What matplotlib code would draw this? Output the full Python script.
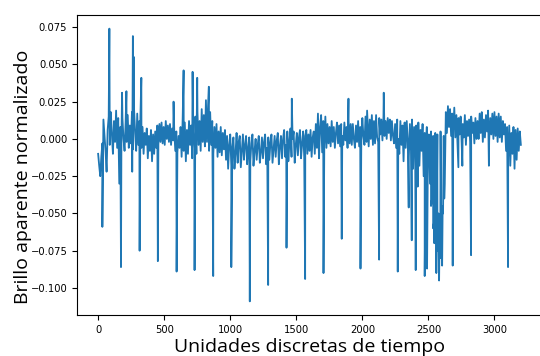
import numpy as np
import matplotlib
matplotlib.use("Agg")
import matplotlib.pyplot as plt

# base light curve, one value every 8 time units (t = 0 .. 3200), one row = 160 units
paso = 8
brillo_base = [
    -0.010, -0.018, -0.025, -0.012, -0.003, 0.013, 0.002, -0.008, -0.022, 0.006,
    0.015, -0.004, 0.018, 0.003, -0.010, 0.012, -0.002, 0.019, -0.006, 0.014,
    -0.030, 0.008, -0.005, 0.014, 0.000, -0.008, 0.011, -0.002, 0.016, -0.006,
    0.009, -0.003, 0.018, -0.007, 0.020, 0.004, -0.008, 0.017, -0.004, 0.012,
    0.015, -0.006, 0.008, -0.010, 0.004, -0.004, 0.007, -0.013, 0.002, -0.008,
    0.006, -0.015, 0.003, -0.010, 0.005, -0.006, 0.009, -0.004, 0.010, -0.002,
    0.011, -0.003, 0.008, -0.004, 0.012, 0.000, 0.009, -0.002, 0.010, -0.004,
    0.007, -0.001, 0.006, -0.008, 0.005, -0.009, 0.002, -0.006, 0.008, -0.012,
    0.014, -0.008, 0.011, -0.015, 0.006, -0.010, 0.012, -0.004, 0.009, -0.013,
    0.005, -0.006, 0.015, -0.010, 0.018, -0.004, 0.012, -0.008, 0.020, -0.002,
    0.016, -0.005, 0.026, -0.002, 0.022, -0.008, 0.018, -0.004, 0.012, -0.010,
    0.008, -0.006, 0.010, -0.012, 0.005, -0.009, 0.008, -0.011, 0.004, -0.007,
    0.006, -0.014, 0.002, -0.020, -0.004, 0.003, -0.018, -0.006, 0.001, -0.020,
    -0.010, 0.004, -0.016, -0.002, 0.002, -0.019, -0.008, 0.003, -0.014, -0.004,
    0.002, -0.017, -0.006, 0.001, -0.015, -0.003, 0.003, -0.018, -0.008, 0.000,
    -0.014, -0.004, 0.002, -0.016, -0.009, 0.001, -0.013, -0.002, 0.003, -0.017,
    -0.006, 0.001, -0.014, -0.003, 0.003, -0.016, -0.007, 0.002, -0.012, -0.001,
    0.004, -0.017, -0.005, 0.002, -0.013, 0.000, 0.006, -0.012, -0.004, 0.005,
    -0.015, -0.002, 0.007, -0.012, 0.000, 0.005, -0.016, -0.004, 0.004, -0.011,
    0.001, 0.006, -0.013, -0.003, 0.005, -0.012, 0.002, 0.006, -0.010, 0.003,
    -0.008, 0.006, -0.012, 0.001, 0.005, -0.010, 0.010, -0.006, 0.017, -0.013,
    0.008, 0.016, -0.009, 0.012, -0.004, 0.015, -0.006, 0.010, -0.003, 0.008,
    -0.005, 0.012, -0.002, 0.008, -0.006, 0.004, 0.011, -0.003, 0.009, -0.005,
    0.010, 0.002, -0.004, 0.011, -0.001, 0.008, -0.006, 0.012, -0.003, 0.010,
    -0.004, 0.010, 0.000, -0.006, 0.009, -0.002, 0.012, -0.005, 0.008, -0.003,
    0.014, 0.002, -0.004, 0.015, -0.002, 0.011, -0.005, 0.013, 0.000, 0.016,
    -0.004, 0.012, -0.003, 0.016, 0.001, -0.002, 0.014, 0.003, 0.013, -0.001,
    0.015, 0.002, 0.012, 0.000, 0.014, 0.004, 0.013, -0.001, 0.012, 0.002,
    -0.003, 0.010, -0.006, 0.013, 0.000, -0.010, 0.012, -0.004, 0.009, -0.015,
    0.011, -0.006, 0.012, -0.002, -0.012, 0.010, -0.008, 0.013, -0.020, 0.008,
    -0.012, 0.009, -0.005, 0.011, -0.018, 0.006, -0.008, 0.010, -0.025, 0.004,
    -0.010, 0.008, -0.014, 0.003, -0.030, 0.005, -0.040, 0.002, -0.055, 0.004,
    -0.065, 0.003, -0.050, -0.070, 0.005, -0.060, -0.045, 0.002, -0.030, 0.018,
    0.004, 0.022, 0.008, 0.020, 0.002, 0.017, 0.006, 0.021, 0.001, 0.016,
    -0.002, 0.014, 0.003, 0.015, -0.003, 0.010, 0.001, 0.016, -0.004, 0.012,
    0.002, 0.013, -0.002, 0.015, 0.004, 0.011, -0.003, 0.014, 0.000, 0.012,
    0.000, 0.017, 0.004, 0.018, -0.002, 0.013, 0.001, 0.016, 0.005, 0.019,
    -0.001, 0.014, 0.003, 0.017, 0.000, 0.018, 0.002, 0.015, -0.002, 0.017,
    0.001, 0.015, -0.002, 0.012, 0.003, 0.010, -0.008, 0.008, -0.012, 0.009,
    -0.018, 0.004, -0.010, 0.008, -0.020, 0.006, -0.014, 0.007, -0.008, 0.005,
    -0.004,
]

# isolated spikes / transits
t_picos = [32, 85, 173, 181, 214, 258, 263, 270, 314, 327, 452, 571, 594,
           647, 715, 730, 750, 838, 871, 1008, 1148, 1287, 1426, 1466, 1567,
           1706, 1844, 1895, 1986, 2036, 2127, 2162, 2268, 2351, 2374, 2404,
           2419, 2472, 2490, 2520, 2536, 2545, 2552, 2560, 2568, 2581, 2590,
           2598, 2604, 2611, 2620, 2684, 2727, 2757, 2823, 2958, 3103]
v_picos = [-0.059, 0.074, -0.086, 0.031, 0.032, -0.022, 0.069, 0.055,
           -0.075, 0.041, -0.082, 0.025, -0.089, 0.046, 0.045, -0.088, 0.041,
           0.035, -0.092, -0.086, -0.109, -0.098, -0.073, 0.027, -0.094,
           -0.090, -0.067, 0.027, -0.087, 0.019, -0.081, 0.031, -0.089,
           -0.046, -0.068, -0.088, -0.032, -0.092, -0.087, -0.045, -0.060,
           -0.070, -0.055, -0.090, -0.075, -0.095, -0.080, -0.070, -0.085,
           -0.050, -0.040, -0.085, -0.019, -0.018, -0.078, -0.018, -0.086]

t_base = np.arange(len(brillo_base)) * paso
t = np.concatenate([t_base, t_picos])
v = np.concatenate([brillo_base, v_picos])
orden = np.argsort(t, kind="stable")
t = t[orden]
v = v[orden]

fig = plt.figure(figsize=(5.4, 3.56), dpi=100)
ax = fig.add_axes([77 / 540, 41 / 356, 465 / 540, 300 / 356])
ax.plot(t, v, color="#1f77b4", linewidth=1.3)
# the right edge of the original axes falls outside the picture
ax.spines["right"].set_visible(False)

ax.tick_params(labelsize=7.2)
ax.set_xlabel("Unidades discretas de tiempo", fontsize=14, family="Open Sans", labelpad=2)
ax.set_ylabel("Brillo aparente normalizado", fontsize=14, family="Open Sans")
ax.yaxis.set_label_coords(-0.097, 0.46)

fig.savefig("out.png", dpi=100)
